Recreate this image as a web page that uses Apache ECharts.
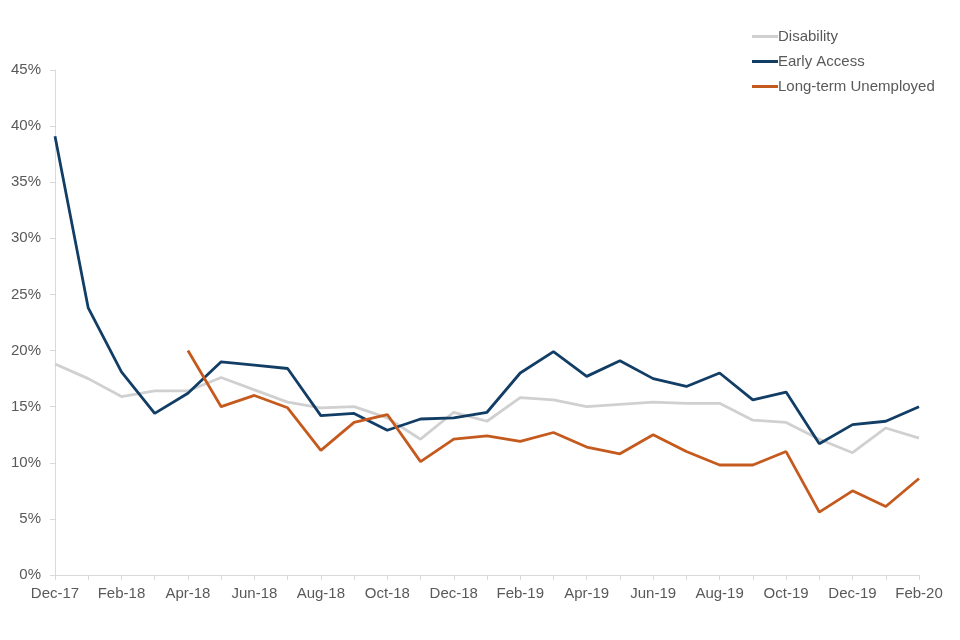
<!DOCTYPE html>
<html><head><meta charset="utf-8">
<script src="https://cdn.jsdelivr.net/npm/echarts@6/dist/echarts.min.js"></script>
<style>html,body{margin:0;padding:0;background:#fff}#c{width:960px;height:640px}</style>
</head><body><div id="c"></div>
<script>
const categories = ["Dec-17","Jan-18","Feb-18","Mar-18","Apr-18","May-18","Jun-18","Jul-18","Aug-18","Sep-18","Oct-18","Nov-18","Dec-18","Jan-19","Feb-19","Mar-19","Apr-19","May-19","Jun-19","Jul-19","Aug-19","Sep-19","Oct-19","Nov-19","Dec-19","Jan-20","Feb-20"];
const disability = [18.8,17.5,15.9,16.4,16.4,17.6,16.5,15.4,14.9,15.0,14.0,12.1,14.5,13.7,15.8,15.6,15.0,15.2,15.4,15.3,15.3,13.8,13.6,12.1,10.9,13.1,12.2];
const earlyAccess = [39.1,23.8,18.1,14.4,16.2,19.0,18.7,18.4,14.2,14.4,12.9,13.9,14.0,14.5,18.0,19.9,17.7,19.1,17.5,16.8,18.0,15.6,16.3,11.7,13.4,13.7,15.0];
const longTermUnemployed = [null,null,null,null,20.0,15.0,16.0,14.9,11.1,13.6,14.3,10.1,12.1,12.4,11.9,12.7,11.4,10.8,12.5,11.0,9.8,9.8,11.0,5.6,7.5,6.1,8.6];
const yTicks = {min:0,max:45,interval:5};

const chart = echarts.init(document.getElementById('c'), null, {renderer:'canvas'});
const font = 'Liberation Sans, Arial, sans-serif';
function ser(name, data, color){
  return {name, type:'line', data, symbol:'none', connectNulls:false,
    lineStyle:{color, width:2.8}, itemStyle:{color}, emphasis:{disabled:true}};
}
chart.setOption({
  animation:false,
  grid:{left:55,right:41,top:70,bottom:65,containLabel:false},
  legend:{orient:'vertical', left:747, top:24, itemGap:10, itemWidth:26, itemHeight:3, icon:'rect',
    textStyle:{fontFamily:font,fontSize:15,color:'#595959',padding:[0,0,0,-5]},
    data:['Disability','Early Access','Long-term Unemployed']},
  xAxis:{type:'category', data:categories, boundaryGap:false,
    axisLine:{lineStyle:{color:'#d9d9d9',width:1}},
    axisTick:{show:true, interval:0, length:5, lineStyle:{color:'#d9d9d9'}},
    axisLabel:{interval:1, color:'#595959', fontFamily:font, fontSize:15, margin:11},
    splitLine:{show:false}},
  yAxis:{type:'value', min:yTicks.min, max:yTicks.max, interval:yTicks.interval,
    axisLine:{show:true, lineStyle:{color:'#d9d9d9'}},
    axisTick:{show:true, length:5, lineStyle:{color:'#d9d9d9'}},
    axisLabel:{formatter:'{value}%', color:'#595959', fontFamily:font, fontSize:15, margin:14},
    splitLine:{show:false}},
  series:[
    ser('Disability', disability, '#d0d0d0'),
    ser('Early Access', earlyAccess, '#123e66'),
    ser('Long-term Unemployed', longTermUnemployed, '#c55a1e')
  ]
});
</script></body></html>
